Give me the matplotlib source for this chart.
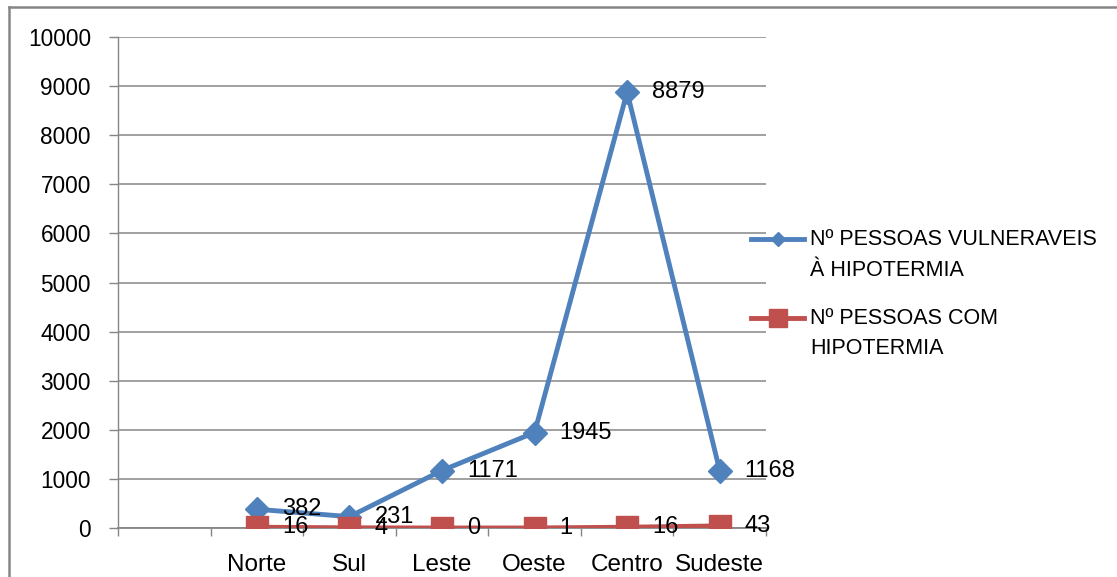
import numpy as np
import matplotlib.pyplot as plt
from matplotlib.lines import Line2D

plt.rcParams['font.family'] = ['Liberation Sans', 'DejaVu Sans']

# dados
regioes = ['', 'Norte', 'Sul', 'Leste', 'Oeste', 'Centro', 'Sudeste']
vulneraveis = [np.nan, 382, 231, 1171, 1945, 8879, 1168]
com_hipotermia = [np.nan, 16, 4, 0, 1, 16, 43]
nome_vulneraveis = ['Nº PESSOAS VULNERAVEIS', 'À HIPOTERMIA']
nome_com = ['Nº PESSOAS COM', 'HIPOTERMIA']

azul = '#4F81BD'
vermelho = '#C0504D'
cinza = '#868686'

fig = plt.figure(figsize=(11.17, 5.77), dpi=100)
ax = fig.add_axes([118 / 1117, 1 - 528 / 577, (766 - 118) / 1117, (528 - 37) / 577])

x = np.arange(len(regioes))
ax.plot(x, vulneraveis, color=azul, lw=3.5, marker='D', ms=12, zorder=3)
ax.plot(x, com_hipotermia, color=vermelho, lw=3.5, marker='s', ms=16, zorder=4)

# rótulos de dados
for xi, v in zip(x, vulneraveis):
    if not np.isnan(v):
        ax.annotate(str(v), (xi, v), xytext=(18, 0), textcoords='offset points',
                    va='center', ha='left', fontsize=17, color='black', zorder=5)
for xi, v in zip(x, com_hipotermia):
    if not np.isnan(v):
        ax.annotate(str(v), (xi, v), xytext=(18, 0), textcoords='offset points',
                    va='center', ha='left', fontsize=17, color='black', zorder=5)

ax.set_xlim(-0.5, len(regioes) - 0.5)
ax.set_ylim(0, 10000)
ax.set_yticks(np.arange(0, 10001, 1000))
ax.yaxis.grid(True, color=cinza, lw=1.1)
ax.set_axisbelow(True)

ax.set_xticks(np.arange(-0.5, len(regioes), 1))
ax.set_xticklabels([])
ax.set_xticks(x, minor=True)
ax.set_xticklabels(regioes, minor=True, fontsize=17.5)
ax.tick_params(axis='x', which='major', length=6, width=1, color=cinza, direction='out')
ax.tick_params(axis='x', which='minor', length=0, pad=19)
ax.tick_params(axis='y', length=6.5, width=1, color=cinza, pad=13, labelsize=16.3)

for s in ['top', 'right']:
    ax.spines[s].set_visible(False)
ax.spines['left'].set_color(cinza)
ax.spines['bottom'].set_color(cinza)
ax.spines['left'].set_linewidth(1)
ax.spines['bottom'].set_linewidth(1.3)

# legenda
def fx(px):
    return px / 1117

def fy(py):
    return 1 - py / 577

for nome, cor, mk, ms, yy in [(nome_vulneraveis, azul, 'D', 7, 239), (nome_com, vermelho, 's', 13, 318)]:
    fig.add_artist(Line2D([fx(751), fx(804)], [fy(yy), fy(yy)], color=cor, lw=3.5))
    fig.add_artist(Line2D([fx(778)], [fy(yy)], color=cor, marker=mk, ms=ms, lw=0))
    fig.text(fx(810), fy(yy), nome[0], fontsize=15.5, va='center', ha='left')
    fig.text(fx(810), fy(yy + 31), nome[1], fontsize=15.5, va='center', ha='left')

# borda
fig.add_artist(Line2D([fx(9), 1], [fy(6.5), fy(6.5)], color=cinza, lw=1.8))
fig.add_artist(Line2D([fx(9), fx(9)], [fy(6.5), 0], color=cinza, lw=1.8))

fig.savefig('out.png', dpi=100)
